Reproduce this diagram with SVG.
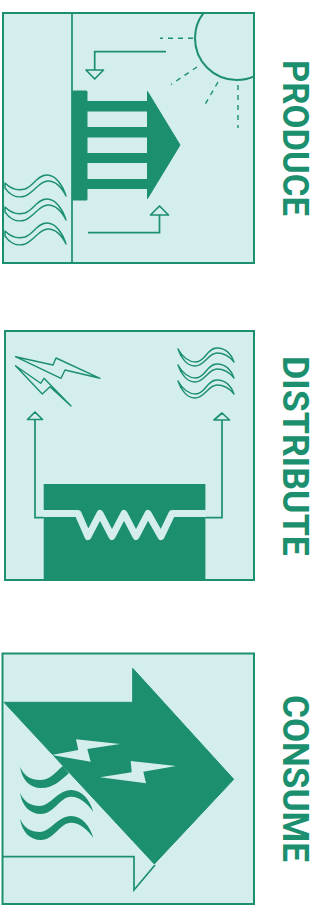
<svg xmlns="http://www.w3.org/2000/svg" xmlns:xlink="http://www.w3.org/1999/xlink" width="320" height="915" viewBox="0 0 320 915">
<style>
.panel{fill:#d4eeee;stroke:#1c8f6f;stroke-width:2}
.dark{fill:#1c8f6f}
.lightf{fill:#d4eeee}
.line{fill:none;stroke:#1c8f6f;stroke-width:1.7}
.tip{fill:#d4eeee;stroke:#1c8f6f;stroke-width:1.7;stroke-linejoin:round}
.dash{fill:none;stroke:#1c8f6f;stroke-width:1.4;stroke-dasharray:5 5}
.wave{fill:#d4eeee;stroke:#1c8f6f;stroke-width:1.4;stroke-linejoin:round}
.label{font-family:Roboto,"Liberation Sans",sans-serif;font-weight:700;font-size:37px;fill:#1c8f6f}
</style>
<defs>
<clipPath id="c1"><rect x="3" y="13" width="251" height="250"/></clipPath>
<path id="w1" class="wave" d="M5,183C11,189 18,191 25,189C34,186 37,175 47,175C56,175 63,186 66,196C62,188 56,181 48,181C39,181 35,192 25,196C16,199 9,194 5,188Z"/>
<path id="w2" class="wave" d="M178,349C183,358 189,362 196,362C205,362 207,348 217,348C226,348 232,355 234,362C230,357 224,353 217,353C208,353 205,366 195,366C187,366 181,358 178,349Z"/>
</defs>
<g id="produce">
<rect class="panel" x="3" y="13" width="251" height="250"/>
<path class="line" d="M72,13V263" stroke-width="2"/>
<g clip-path="url(#c1)"><circle cx="236.7" cy="38.3" r="41.7" fill="none" stroke="#1c8f6f" stroke-width="2"/></g>
<path class="dash" d="M193,38.3H160M197,67L171,84.500M218,82L203,108M238,85V128"/>
<rect class="dark" x="72" y="90.500" width="15.500" height="110" rx="1.500"/>
<path class="dark" d="M87,101.500H147.500V91.500L180,145L147.500,198.500V188.500H87V179.500H147.500V162.500H87V153.500H147.500V137H87V127.500H147.500V111H87Z" stroke="#1c8f6f" stroke-width="1" stroke-linejoin="round"/>
<path class="line" d="M166,51.700H94.700V70"/>
<path class="tip" d="M86,70H103.500L94.700,79Z"/>
<path class="line" d="M88,232.700H159.500V215"/>
<path class="tip" d="M150.500,215H168.500L159.500,206Z"/>
<use xlink:href="#w1" href="#w1"/>
<use xlink:href="#w1" href="#w1" y="24"/>
<use xlink:href="#w1" href="#w1" y="48"/>
<text class="label" transform="translate(283,60) rotate(90)" textLength="156" lengthAdjust="spacingAndGlyphs">PRODUCE</text>
</g>
<g id="distribute">
<rect class="panel" x="5" y="331" width="249" height="249"/>
<path class="wave" d="M15.500,356.700L53,365L56,358L100,378.300L65,370L61,378.300Z"/>
<path class="wave" d="M15.500,365.700L40.700,383.300L44,378.300L71,406L50,386.700L42.300,394Z"/>
<use xlink:href="#w2" href="#w2"/>
<use xlink:href="#w2" href="#w2" y="16"/>
<use xlink:href="#w2" href="#w2" y="32"/>
<rect class="dark" x="43.700" y="484" width="161.700" height="96"/>
<path fill="none" stroke="#d4eeee" stroke-width="7" stroke-linejoin="round" stroke-linecap="round" d="M41,513.500H78L88,536.500L100,513.500L112,536.500L124,513.500L136,536.500L148,513.500L161,536.500L172,513.500H208"/>
<path class="line" d="M43.700,517.700H35V420M205.400,517.700H222V420"/>
<path class="tip" d="M27.500,419.500H42.500L35,412Z"/>
<path class="tip" d="M214,420H229.500L222,413Z"/>
<text class="label" transform="translate(283,356) rotate(90)" textLength="200" lengthAdjust="spacingAndGlyphs">DISTRIBUTE</text>
</g>
<g id="consume">
<rect class="panel" x="2.500" y="653.500" width="251.500" height="250.500"/>
<path class="line" d="M3,856.700H134V890L155,865"/>
<path class="dark" d="M4,702.300H132.700V668.300L233.700,779.300L154.300,864L4,702.300Z" stroke="#1c8f6f" stroke-width="1" stroke-linejoin="round"/>
<path class="dark" d="M20,766.700C24,776 31,780 40,780C50,780 56,772 62.700,766L69,773C61,780 54,788 41,788C30,788 22,780 20,766.700Z"/>
<path class="dark" d="M20,792.700C24,802 31,806 40,806C50,806 58,790 71,790C82,790 90,800 93.300,812C88,804 80,796.700 71,796.700C60,796.700 54,814 41,814C30,814 22,806 20,792.700Z"/>
<path class="dark" d="M20,818.700C24,828 31,832 40,832C50,832 58,816 71,816C82,816 90,826 93.300,838C88,830 80,822.700 71,822.700C60,822.700 54,840 41,840C30,840 22,832 20,818.700Z"/>
<path class="lightf" d="M76,739.300L120,744L87.300,749L90.700,761.700L51.700,755L78.300,750Z"/>
<path class="lightf" d="M130.700,761L176,766L143.300,771.700L146,783.300L100,777.300L131.700,772.300Z"/>
<text class="label" transform="translate(283,695) rotate(90)" textLength="167" lengthAdjust="spacingAndGlyphs">CONSUME</text>
</g>
</svg>
